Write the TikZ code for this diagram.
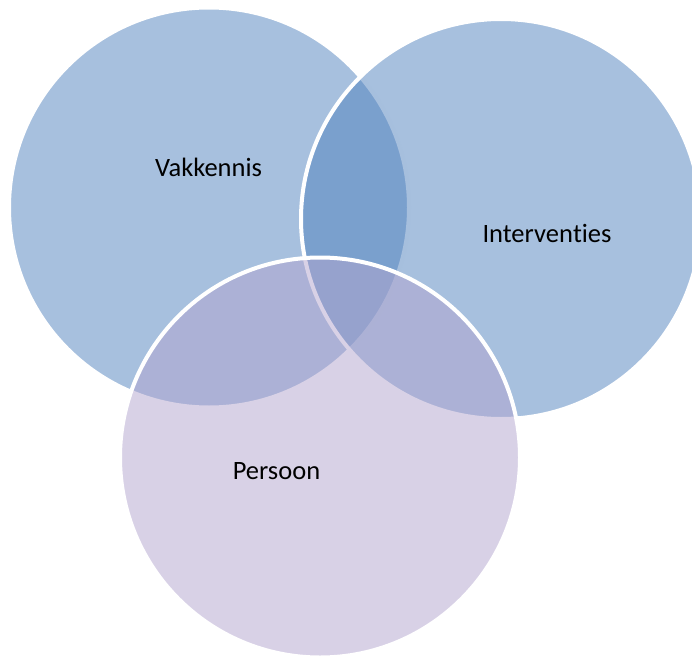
\documentclass[tikz,border=0pt]{standalone}
\usepackage{fontspec}
\setmainfont[Ligatures={NoCommon}]{Carlito}
\definecolor{vblue}{RGB}{79,129,189}
\definecolor{vlila}{RGB}{178,164,206}
\begin{document}
\begin{tikzpicture}[x=1pt,y=-1pt,
  venn/.style={circle,minimum size=400pt,inner sep=0pt,draw=white,line width=4pt,fill opacity=0.5,draw opacity=1},
  lbl/.style={font=\fontsize{26.5}{30}\selectfont,text=black,inner sep=0pt}]
\useasboundingbox (0,0) rectangle (692,655);
\node[venn,fill=vblue] (vak) at (209,207.5) {};
\node[venn,fill=vblue] (int) at (501,219) {};
\node[venn,fill=vlila] (per) at (320,457.5) {};
\node[lbl] (tvak) at (208.5,167) {Vakkennis};
\node[lbl] (tint) at (547,233) {Interven\kern0pt ties};
\node[lbl] (tper) at (276.5,471) {Persoon};
\end{tikzpicture}
\end{document}
